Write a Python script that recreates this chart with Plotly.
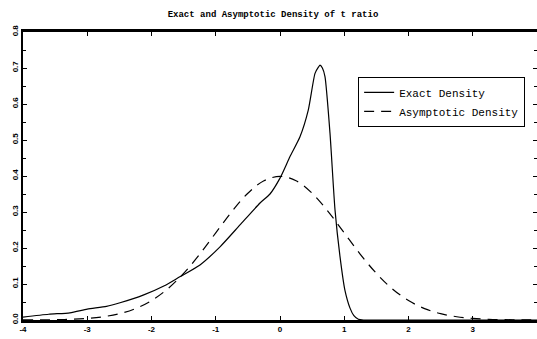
import plotly.graph_objects as go

# Exact density
exact_x = [-4.0, -3.6, -3.27, -3.0, -2.7, -2.49, -2.13, -1.8, -1.56, -1.245,
           -0.93, -0.623, -0.311, -0.156, 0.0, 0.156, 0.311, 0.44, 0.545, 0.6,
           0.623, 0.66, 0.70, 0.778, 0.856, 0.934, 1.01, 1.09, 1.15, 1.22, 1.3,
           2.0, 3.0, 4.0]
exact_y = [0.008, 0.016, 0.02, 0.03, 0.038, 0.048, 0.069, 0.095, 0.12, 0.153,
           0.204, 0.264, 0.325, 0.35, 0.394, 0.454, 0.509, 0.583, 0.685, 0.703,
           0.708, 0.700, 0.676, 0.519, 0.306, 0.176, 0.083, 0.033, 0.012, 0.002, 0.0,
           0.0, 0.0, 0.0]

# Asymptotic density
asym_x = [-4.0, -3.75, -3.5, -3.25, -3.0, -2.75, -2.5, -2.25, -2.0, -1.75, -1.5,
          -1.25, -1.0, -0.75, -0.5, -0.25, 0.0, 0.25, 0.5, 0.75, 1.0, 1.25, 1.5,
          1.75, 2.0, 2.25, 2.5, 2.75, 3.0, 3.25, 3.5, 3.75, 4.0]
asym_y = [0.0001, 0.0004, 0.0009, 0.002, 0.0044, 0.0091, 0.0175, 0.0317, 0.054,
          0.0863, 0.1295, 0.1826, 0.242, 0.3011, 0.3521, 0.3867, 0.3989, 0.3867,
          0.3521, 0.3011, 0.242, 0.1826, 0.1295, 0.0863, 0.054, 0.0317, 0.0175,
          0.0091, 0.0044, 0.002, 0.0009, 0.0004, 0.0001]

x_ticks = [-4, -3, -2, -1, 0, 1, 2, 3, 4]
y_ticks = [0.0, 0.1, 0.2, 0.3, 0.4, 0.5, 0.6, 0.7, 0.8]

fig = go.Figure()
fig.add_trace(go.Scatter(x=exact_x, y=exact_y, mode="lines", name="Exact Density",
                         line=dict(color="black", width=1.2, shape="spline", smoothing=0.6)))
fig.add_trace(go.Scatter(x=asym_x, y=asym_y, mode="lines", name="Asymptotic Density",
                         line=dict(color="black", width=1.2, dash="10px,7px", shape="spline")))

tickfont = dict(family="Liberation Sans", size=8, color="black", weight="bold")

fig.update_layout(
    width=537, height=339,
    margin=dict(l=23, r=0, t=32, b=19, autoexpand=False),
    paper_bgcolor="white", plot_bgcolor="white",
    showlegend=True,
    legend=dict(x=0.652, y=0.844, xanchor="left", yanchor="top",
                bordercolor="black", borderwidth=1, bgcolor="white",
                font=dict(family="Liberation Mono", size=11, color="black"),
                tracegroupgap=0, itemwidth=30),
    title=dict(text="Exact and Asymptotic Density of t ratio",
               x=273 / 537, xanchor="center", y=1 - 14 / 339, yanchor="middle",
               font=dict(family="Liberation Mono", size=9, color="black", weight="bold")),
    xaxis=dict(range=[-4, 4], tickmode="array", tickvals=x_ticks,
               ticktext=[str(v) for v in x_ticks],
               ticks="inside", ticklen=4, tickcolor="black", tickwidth=1,
               showgrid=False, zeroline=False, showline=True, linecolor="black",
               linewidth=2.5, mirror="ticks", tickfont=tickfont, automargin=False),
    yaxis=dict(range=[0, 0.8], tickmode="array", tickvals=y_ticks,
               ticktext=["%.1f" % v for v in y_ticks],
               ticks="inside", ticklen=4, tickcolor="black", tickwidth=1,
               tickangle=-90,
               minor=dict(ticks="inside", ticklen=3, dtick=0.05, tickcolor="black"),
               showgrid=False, zeroline=False, showline=True, linecolor="black",
               linewidth=2, mirror="ticks", tickfont=tickfont, automargin=False),
)

fig.write_html("out.html", config={"displayModeBar": False},
               post_script="document.body.style.margin='0';document.body.style.overflow='hidden';")
